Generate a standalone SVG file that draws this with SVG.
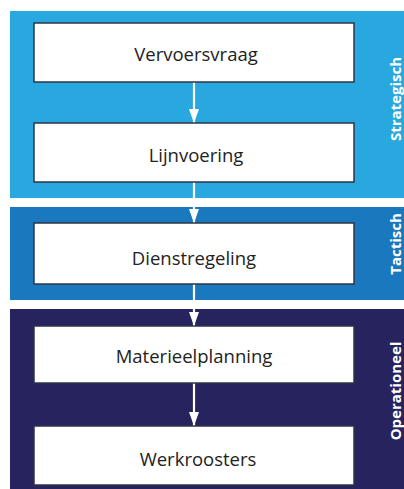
<svg xmlns="http://www.w3.org/2000/svg" width="404" height="489" viewBox="0 0 404 489">
  <style>
    .box { fill: #ffffff; stroke: #2b3645; stroke-width: 1.5; }
    .lbl { font-family: "Open Sans", "Liberation Sans", sans-serif; font-size: 18.5px; fill: #222222; text-anchor: middle; }
    .side { font-family: "Open Sans", "Liberation Sans", sans-serif; font-size: 15px; font-weight: bold; fill: #ffffff; text-anchor: middle; }
    .conn { stroke: #ffffff; stroke-width: 2.2; fill: none; }
  </style>
  <defs>
    <marker id="ah" markerUnits="userSpaceOnUse" markerWidth="14" markerHeight="10" refX="14" refY="5" orient="auto">
      <path d="M0,0 L14,5 L0,10 Z" fill="#ffffff"/>
    </marker>
  </defs>
  <rect x="0" y="0" width="404" height="489" fill="#ffffff"/>
  <g id="band-strategisch">
    <rect x="10" y="11" width="394" height="187" fill="#29a8e0"/>
    <text class="side" transform="translate(401,99) rotate(-90)">Strategisch</text>
  </g>
  <g id="band-tactisch">
    <rect x="10" y="207" width="394" height="93" fill="#1a78bf"/>
    <text class="side" transform="translate(401,244) rotate(-90)">Tactisch</text>
  </g>
  <g id="band-operationeel">
    <rect x="10" y="309" width="394" height="180" fill="#27235f"/>
    <text class="side" transform="translate(401,391) rotate(-90)">Operationeel</text>
  </g>
  <g id="connectors">
    <line class="conn" x1="194" y1="82" x2="194" y2="123" marker-end="url(#ah)"/>
    <line class="conn" x1="194" y1="182" x2="194" y2="223" marker-end="url(#ah)"/>
    <line class="conn" x1="194" y1="284" x2="194" y2="326" marker-end="url(#ah)"/>
    <line class="conn" x1="194" y1="383" x2="194" y2="426" marker-end="url(#ah)"/>
  </g>
  <g id="vervoersvraag">
    <rect class="box" x="34" y="23" width="320" height="59"/>
    <text class="lbl" x="196" y="61">Vervoersvraag</text>
  </g>
  <g id="lijnvoering">
    <rect class="box" x="34" y="123" width="320" height="59"/>
    <text class="lbl" x="196" y="162">Lijnvoering</text>
  </g>
  <g id="dienstregeling">
    <rect class="box" x="34" y="223" width="320" height="61"/>
    <text class="lbl" x="194" y="265">Dienstregeling</text>
  </g>
  <g id="materieelplanning">
    <rect class="box" x="34" y="326" width="320" height="57"/>
    <text class="lbl" x="194" y="363">Materieelplanning</text>
  </g>
  <g id="werkroosters">
    <rect class="box" x="34" y="426" width="320" height="59"/>
    <text class="lbl" x="198" y="466">Werkroosters</text>
  </g>
</svg>
